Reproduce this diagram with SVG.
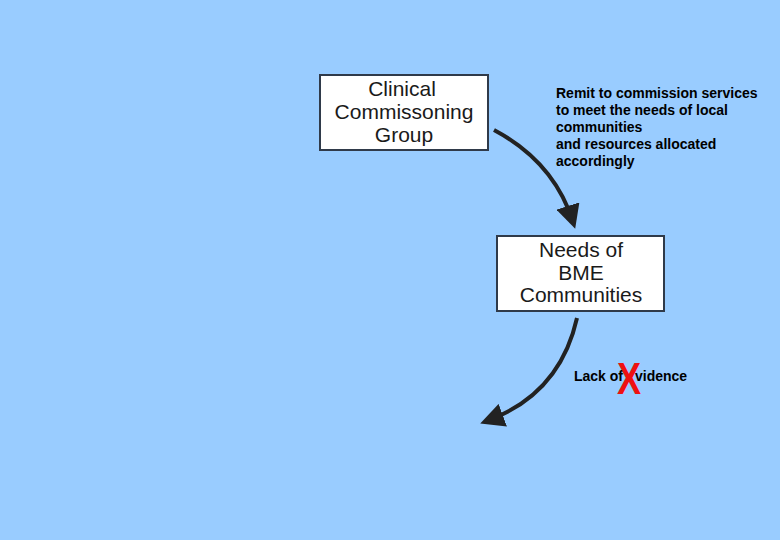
<svg xmlns="http://www.w3.org/2000/svg" width="780" height="540" viewBox="0 0 780 540">
<defs>
<style>
.box{fill:#ffffff;stroke:#2f3a4a;stroke-width:2}
.bt{font-family:"Liberation Sans",Arial,sans-serif;font-size:21px;fill:#1a1a1a;text-anchor:middle}
.lbl{font-family:"Liberation Sans",Arial,sans-serif;font-size:14px;font-weight:bold;fill:#000}
.conn{fill:none;stroke:#222;stroke-width:4}
</style>
<marker id="ah" viewBox="0 0 10 10" refX="7" refY="5" markerWidth="6" markerHeight="6" orient="auto" markerUnits="strokeWidth">
<path d="M0,0 L10,5 L0,10 z" fill="#222"/>
</marker>
</defs>
<rect width="780" height="540" fill="#99ccff"/>
<g id="connectors">
<path class="conn" d="M494,130 Q554,162 573,222" marker-end="url(#ah)"/>
<path class="conn" d="M577,318 Q560,394 487,421" marker-end="url(#ah)"/>
</g>
<g id="ccg">
<rect class="box" x="320" y="75" width="168" height="75"/>
<text class="bt" x="402" y="96">Clinical</text>
<text class="bt" x="404" y="119">Commissoning</text>
<text class="bt" x="404" y="142">Group</text>
</g>
<g id="needs">
<rect class="box" x="497" y="236" width="167" height="75"/>
<text class="bt" x="581" y="257">Needs of</text>
<text class="bt" x="581" y="280">BME</text>
<text class="bt" x="581" y="302">Communities</text>
</g>
<g id="remit-label">
<text class="lbl" x="556" y="98">Remit to commission services</text>
<text class="lbl" x="556" y="115">to meet the needs of local</text>
<text class="lbl" x="556" y="132">communities</text>
<text class="lbl" x="556" y="149">and resources allocated</text>
<text class="lbl" x="556" y="166">accordingly</text>
</g>
<g id="lack-label">
<text class="lbl" x="574" y="381">Lack of</text>
<text class="lbl" x="635" y="381">vidence</text>
<text transform="translate(629,394) scale(0.82,1)" x="0" y="0" font-family="Liberation Sans,Arial,sans-serif" font-size="44" font-weight="bold" fill="#ee1111" text-anchor="middle">X</text>
</g>
</svg>
